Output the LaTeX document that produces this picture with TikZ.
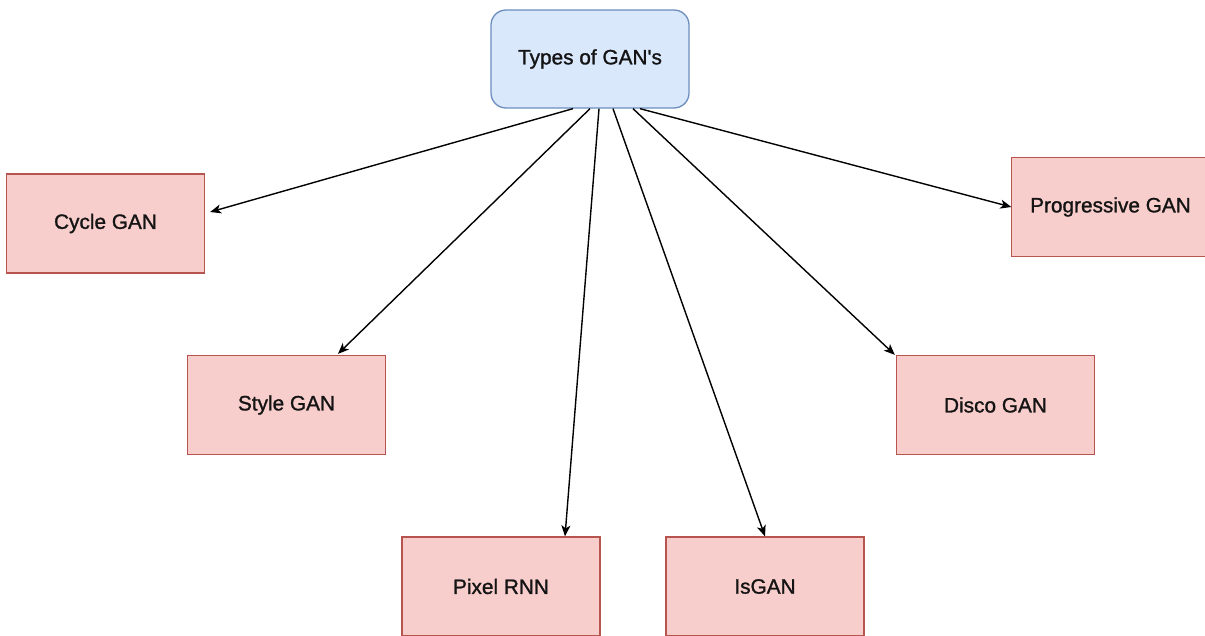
\documentclass[tikz,border=0pt]{standalone}
\usepackage{fontspec}
\setmainfont{Liberation Sans}[Ligatures=TeXOff, FakeBold=1.2]
\usetikzlibrary{arrows.meta,calc}
\definecolor{bluefill}{HTML}{DAE8FC}
\definecolor{bluedraw}{HTML}{6C8EBF}
\definecolor{redfill}{HTML}{F8CECC}
\definecolor{reddraw}{HTML}{B85450}
\definecolor{txt}{HTML}{141414}
\tikzset{
  rootbox/.style={draw=bluedraw, fill=bluefill, line width=1.3pt, rounded corners=15pt,
    minimum width=198pt, minimum height=98pt, inner sep=0pt,
    font=\fontsize{20.8}{24}\selectfont, text=txt},
  leafbox/.style={draw=reddraw, fill=redfill, line width=1.3pt,
    minimum width=198pt, minimum height=99pt, inner sep=0pt,
    font=\fontsize{20.8}{24}\selectfont, text=txt},
  conn/.style={draw=black, line width=1.4pt, -{Stealth[length=11pt,width=9pt,inset=3pt]}}
}
\begin{document}
\begin{tikzpicture}[x=1pt,y=-1pt]
\useasboundingbox (0,0) rectangle (1205,635);
\fill[white] (0,0) rectangle (1205,635);
\node[rootbox] (top) at (590,59) {Types of GAN's};
\node[leafbox] (cyc) at (105.5,223.5) {Cycle GAN};
\node[leafbox] (sty) at (286.5,405) {Style GAN};
\node[leafbox] (pix) at (501,586.5) {Pixel RNN};
\node[leafbox] (isg) at (765,586.5) {IsGAN};
\node[leafbox] (dis) at (995.5,405) {Disco GAN};
\node[leafbox] (pro) at (1110.5,207) {Progressive GAN};
\draw[conn] ($(top.south)+(-17,0)$) -- ($(cyc.east)+(5,-11.5)$);
\draw[conn] ($(top.south)+(0,0)$) -- ($(sty.north)+(51.5,-1)$);
\draw[conn] ($(top.south)+(9,0)$) -- ($(pix.north)+(64,0)$);
\draw[conn] ($(top.south)+(23,0)$) -- (isg.north);
\draw[conn] ($(top.south)+(43,0)$) -- ($(dis.north west)+(-1,0)$);
\draw[conn] ($(top.south)+(50,0)$) -- ($(pro.west)+(0.5,0)$);
\end{tikzpicture}
\end{document}
